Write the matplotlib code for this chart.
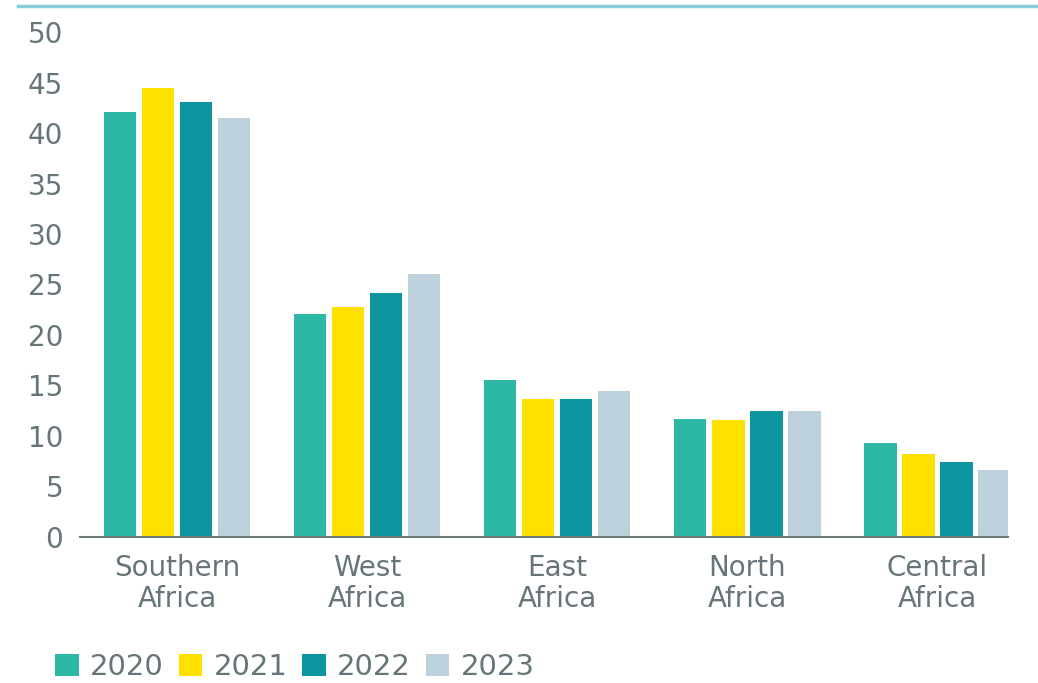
import matplotlib.pyplot as plt
import numpy as np
from matplotlib.lines import Line2D

# Values
regions = ['Southern\nAfrica', 'West\nAfrica', 'East\nAfrica', 'North\nAfrica', 'Central\nAfrica']
years = ['2020', '2021', '2022', '2023']
v2020 = [42.1, 22.1, 15.5, 11.7, 9.3]
v2021 = [44.5, 22.8, 13.7, 11.6, 8.2]
v2022 = [43.1, 24.2, 13.7, 12.5, 7.4]
v2023 = [41.5, 26.0, 14.4, 12.5, 6.6]
colors = ['#2db8a6', '#ffe100', '#0d95a0', '#bdd1dc']

text_col = '#66757a'

fig = plt.figure(figsize=(10.38, 6.83), dpi=100)
ax = fig.add_axes([0.077, 0.214, 0.894, 0.739])

x = np.arange(len(regions))
width = 0.17
offsets = [-0.3, -0.1, 0.1, 0.3]
for vals, off, col, lab in zip([v2020, v2021, v2022, v2023], offsets, colors, years):
    ax.bar(x + off, vals, width, color=col, label=lab, zorder=2)

ax.set_xlim(-0.51, 4.37)
ax.set_ylim(0, 50)
ax.set_yticks(range(0, 51, 5))
ax.set_xticks(x)
ax.set_xticklabels(regions, fontsize=20, color=text_col, linespacing=1.15)
ax.tick_params(axis='y', labelsize=20, labelcolor=text_col, length=0, pad=12)
ax.tick_params(axis='x', length=0, pad=12)
for s in ['top', 'right', 'left']:
    ax.spines[s].set_visible(False)
ax.spines['bottom'].set_color('#6f7a7d')
ax.spines['bottom'].set_linewidth(1.5)

# cyan rule at the top of the figure
fig.add_artist(Line2D([0.017, 1.0], [0.991, 0.991], color='#86d0dc', lw=2.5))

fig.legend(loc='lower left', bbox_to_anchor=(0.028, -0.036), ncol=4, frameon=False,
           fontsize=21, labelcolor=text_col, handlelength=0.8, handleheight=0.8,
           handletextpad=0.4, columnspacing=0.5)

plt.savefig('out.png', dpi=100)
